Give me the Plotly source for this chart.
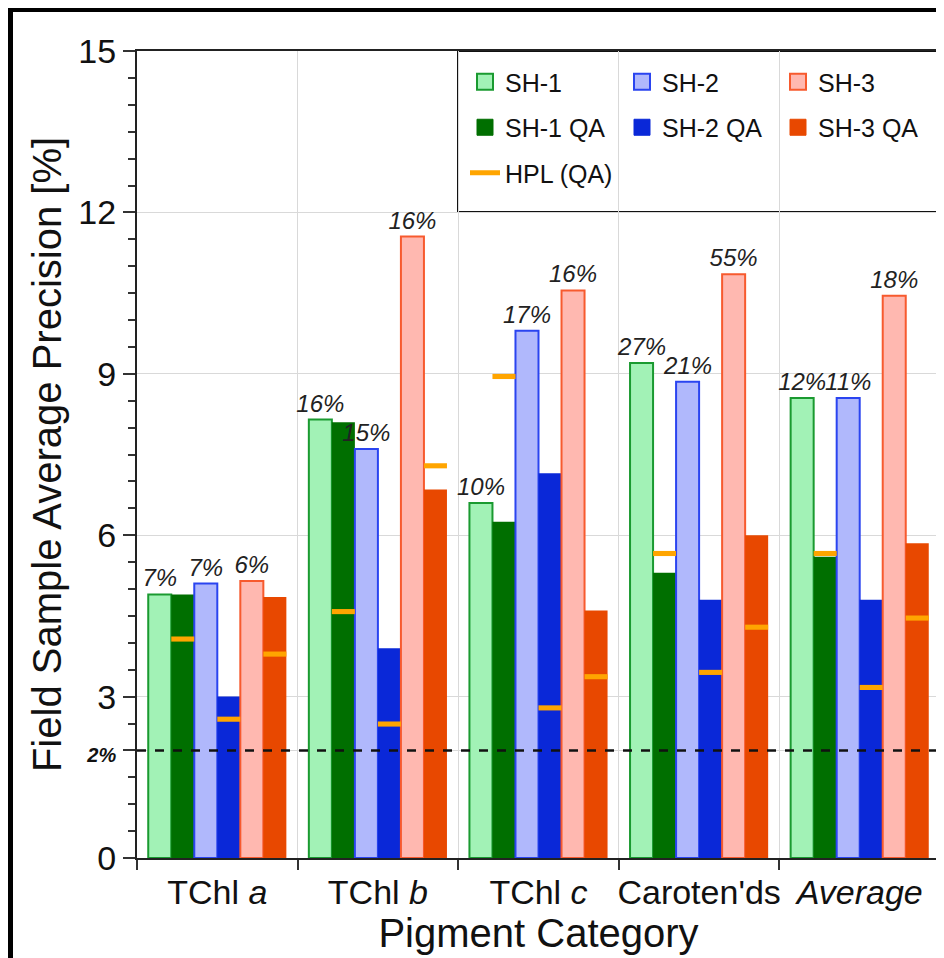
import plotly.graph_objects as go

# ---------------- data ----------------
CATEGORIES = ["TChl <i>a</i>", "TChl <i>b</i>", "TChl <i>c</i>", "Caroten'ds", "<i>Average</i>"]

SH1 = [4.9, 8.15, 6.6, 9.2, 8.55]
SH1_QA = [4.9, 8.1, 6.25, 5.3, 5.6]
SH2 = [5.1, 7.6, 9.8, 8.85, 8.55]
SH2_QA = [3.0, 3.9, 7.15, 4.8, 4.8]
SH3 = [5.15, 11.55, 10.55, 10.85, 10.45]
SH3_QA = [4.85, 6.85, 4.6, 6.0, 5.85]

HPL_SH1 = [4.07, 4.58, 8.95, 5.66, 5.66]
HPL_SH2 = [2.58, 2.49, 2.79, 3.45, 3.17]
HPL_SH3 = [3.79, 7.29, 3.37, 4.29, 4.46]

LABEL_SH1 = ["7%", "16%", "10%", "27%", "12%"]
LABEL_SH2 = ["7%", "15%", "17%", "21%", "11%"]
LABEL_SH3 = ["6%", "16%", "16%", "55%", "18%"]

Y_TICKVALS = [0, 2, 3, 6, 9, 12, 15]
Y_TICKTEXT = ["0", "<span style='font-size:20px'><b><i>2%</i></b></span>", "3", "6", "9", "12", "15"]
THRESHOLD = 2

# ---------------- style ----------------
FONT = "Liberation Sans, Arial, Helvetica, sans-serif"
HPL_THICK = 0.095
ORANGE = "#ffa500"

light = [
    ("SH-1", SH1, LABEL_SH1, "#a2f2b6", "#1a9a30"),
    ("SH-2", SH2, LABEL_SH2, "#b0b8fc", "#2a44f0"),
    ("SH-3", SH3, LABEL_SH3, "#ffb8b0", "#f75a2e"),
]
dark = [
    ("SH-1 QA", SH1_QA, "#006f00", HPL_SH1),
    ("SH-2 QA", SH2_QA, "#0a28d8", HPL_SH2),
    ("SH-3 QA", SH3_QA, "#e84800", HPL_SH3),
]

fig = go.Figure()

for i in range(3):
    name, vals, labels, fill, edge = light[i]
    fig.add_trace(go.Bar(
        x=CATEGORIES, y=vals, name=name, offsetgroup=name,
        marker=dict(color=fill, line=dict(color=edge, width=2)),
        text=labels, textposition="outside", constraintext="none", cliponaxis=False,
        textfont=dict(family=FONT, size=24, color="#222222", style="italic"),
        showlegend=False,
    ))
    qname, qvals, qcol, hpl = dark[i]
    fig.add_trace(go.Bar(
        x=CATEGORIES, y=qvals, name=qname, offsetgroup=qname,
        marker=dict(color=qcol, line=dict(color=qcol, width=0)),
        showlegend=False,
    ))

# HPL markers: thin bars in the QA slots
for i in range(3):
    qname, qvals, qcol, hpl = dark[i]
    fig.add_trace(go.Bar(
        x=CATEGORIES, y=[HPL_THICK] * len(hpl), base=[v - HPL_THICK / 2 for v in hpl],
        name="HPL (QA)", offsetgroup=qname,
        marker=dict(color=ORANGE, line=dict(width=0)),
        showlegend=False,
    ))

# legend-only entries (three columns)
legend_cols = [
    ("legend", [light[0], dark[0]], True),
    ("legend2", [light[1], dark[1]], False),
    ("legend3", [light[2], dark[2]], False),
]
for lg, (l, d), with_hpl in legend_cols:
    fig.add_trace(go.Scatter(
        x=[None], y=[None], mode="markers", name=l[0], legend=lg, legendgroup=l[0],
        marker=dict(symbol="square", size=16, color=l[3], line=dict(color=l[4], width=2)),
    ))
    fig.add_trace(go.Scatter(
        x=[None], y=[None], mode="markers", name=d[0], legend=lg, legendgroup=d[0],
        marker=dict(symbol="square", size=16, color=d[2], line=dict(color=d[2], width=1)),
    ))
    if with_hpl:
        fig.add_trace(go.Scatter(
            x=[None], y=[None], mode="lines", name="HPL (QA)", legend=lg, legendgroup="HPL",
            line=dict(color=ORANGE, width=5),
        ))

# the page shows the figure offset by 8 px; work in screen pixels
OFF = 8
W, H = 936, 950
L, R, T, B = 137 - OFF, 4, 51 - OFF, 100
PW, PH = W - L - R, H - T - B


def px_x(p):
    return (p - OFF - L) / PW


def px_y(p):
    return (H - B - (p - OFF)) / PH


legend_common = dict(
    orientation="v", xanchor="left", yanchor="top", y=px_y(59),
    font=dict(family=FONT, size=25, color="#111111"),
    bgcolor="rgba(0,0,0,0)", borderwidth=0, tracegroupgap=10,
)

fig.update_layout(
    width=W, height=H,
    margin=dict(l=L, r=R, t=T, b=B, autoexpand=False),
    barmode="group", bargap=0.14, bargroupgap=0,
    paper_bgcolor="black", plot_bgcolor="white",
    font=dict(family=FONT, size=34, color="#111111"),
    legend=dict(x=px_x(465), **legend_common),
    legend2=dict(x=px_x(622), **legend_common),
    legend3=dict(x=px_x(778), **legend_common),
    xaxis=dict(
        type="category", tickson="boundaries", ticks="outside", ticklen=10, tickwidth=1.5,
        tickangle=0, automargin=False, ticklabelstandoff=3,
        tickcolor="#333333", showgrid=True, gridcolor="#d9d9d9", gridwidth=1,
        showline=True, linecolor="#222222", linewidth=2, mirror=True,
        tickfont=dict(family=FONT, size=34, color="#111111"),
        title=dict(text="Pigment Category", font=dict(family=FONT, size=40, color="#111111"), standoff=5),
    ),
    yaxis=dict(
        range=[0, 15], tickmode="array", tickvals=Y_TICKVALS, ticktext=Y_TICKTEXT,
        automargin=False,
        ticks="outside", ticklen=12, tickwidth=1.5, tickcolor="#333333",
        minor=dict(tickmode="linear", tick0=0, dtick=0.5, ticks="outside", ticklen=7,
                   tickwidth=1.5, tickcolor="#333333", showgrid=False),
        showgrid=True, gridcolor="#d9d9d9", gridwidth=1, zeroline=False,
        showline=True, linecolor="#222222", linewidth=2, mirror=True,
        tickfont=dict(family=FONT, size=34, color="#111111"),
        title=dict(text="Field Sample Average Precision [%]",
                   font=dict(family=FONT, size=40, color="#111111"), standoff=4),
    ),
    shapes=[
        # white page inside the black border
        dict(type="rect", xref="paper", yref="paper", layer="below",
             x0=px_x(13), x1=px_x(941), y0=px_y(980), y1=px_y(12),
             fillcolor="white", line=dict(width=0)),
        # legend box
        dict(type="rect", xref="paper", yref="paper", layer="between",
             x0=px_x(458), x1=1, y0=px_y(212), y1=1,
             fillcolor="white", line=dict(color="#111111", width=2)),
        # 2% threshold
        dict(type="line", xref="paper", yref="y", x0=0, x1=1, y0=THRESHOLD, y1=THRESHOLD,
             layer="above", line=dict(color="#111111", width=2.5, dash="dash")),
    ],
)

fig.write_html("out.html")
